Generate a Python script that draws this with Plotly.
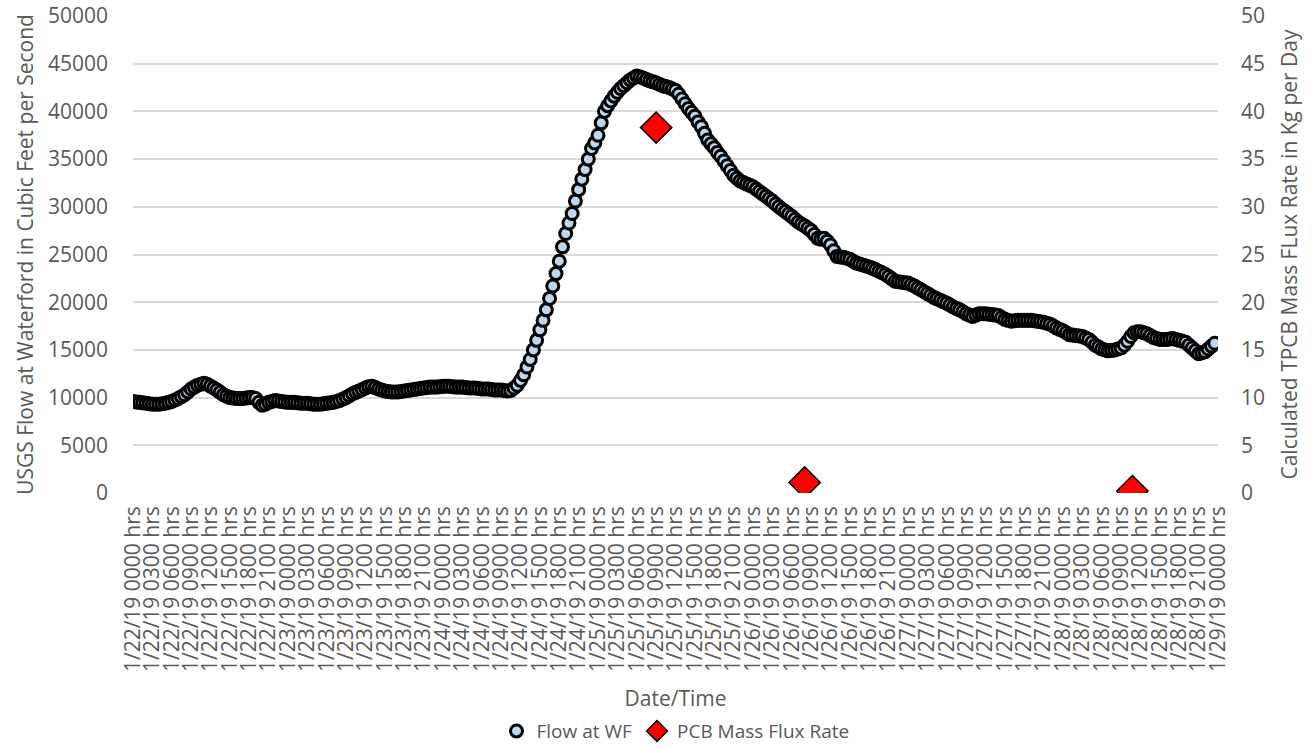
import pandas as pd
import plotly.graph_objects as go

# flow at Waterford (cfs), read every 30 minutes starting 1/22/19 0000
flow_jan22 = [9600, 9550, 9500, 9450, 9400, 9350, 9300, 9300, 9300, 9350, 9400, 9500,
              9600, 9750, 9900, 10100, 10300, 10600, 10900, 11100, 11300, 11400, 11500, 11400,
              11200, 11000, 10800, 10550, 10300, 10150, 10000, 9950, 9900, 9900, 9900, 9950,
              10000, 10000, 9900, 9500, 9200, 9300, 9500, 9600, 9700, 9650, 9600, 9550]
flow_jan23 = [9500, 9500, 9500, 9450, 9400, 9400, 9400, 9350, 9300, 9300, 9300, 9350,
              9400, 9450, 9500, 9600, 9700, 9850, 10000, 10200, 10400, 10550, 10700, 10850,
              11000, 11150, 11200, 11050, 10900, 10800, 10700, 10650, 10600, 10600, 10600, 10650,
              10700, 10750, 10800, 10850, 10900, 10950, 11000, 11050, 11100, 11100, 11100, 11150]
flow_jan24 = [11200, 11200, 11200, 11150, 11100, 11100, 11100, 11050, 11000, 11000, 11000, 10950,
              10900, 10900, 10900, 10850, 10800, 10800, 10800, 10750, 10700, 10750, 11000, 11300,
              11800, 12400, 13200, 14000, 15000, 16000, 17100, 18100, 19200, 20400, 21700, 23000,
              24300, 25800, 27200, 28300, 29300, 30600, 31800, 32900, 33900, 35000, 36100, 36700]
flow_jan25 = [37500, 38800, 40000, 40600, 41100, 41600, 42000, 42400, 42700, 43000, 43300, 43500,
              43700, 43600, 43500, 43350, 43200, 43100, 43000, 42850, 42700, 42600, 42500, 42350,
              42200, 41800, 41300, 40800, 40300, 39900, 39500, 38900, 38400, 37700, 37000, 36600,
              36200, 35700, 35300, 34800, 34300, 33800, 33300, 33000, 32700, 32550, 32400, 32250]
flow_jan26 = [32100, 31850, 31600, 31350, 31100, 30850, 30600, 30300, 30000, 29750, 29500, 29250,
              29000, 28700, 28400, 28200, 28000, 27750, 27500, 27100, 26700, 26600, 26700, 26400,
              26000, 25400, 24800, 24750, 24700, 24600, 24500, 24300, 24100, 24000, 23900, 23800,
              23700, 23550, 23400, 23250, 23100, 22900, 22700, 22450, 22200, 22150, 22100, 22050]
flow_jan27 = [22000, 21850, 21700, 21500, 21300, 21100, 20900, 20700, 20500, 20350, 20200, 20050,
              19900, 19700, 19500, 19350, 19200, 19000, 18800, 18650, 18500, 18650, 18800, 18800,
              18800, 18750, 18700, 18650, 18600, 18400, 18200, 18100, 18000, 18050, 18100, 18100,
              18100, 18100, 18100, 18050, 18000, 17950, 17900, 17800, 17700, 17500, 17300, 17150]
flow_jan28 = [17000, 16800, 16600, 16550, 16500, 16450, 16400, 16250, 16100, 15800, 15500, 15300,
              15100, 15000, 14900, 14950, 15000, 15100, 15200, 15500, 15900, 16400, 16800, 16900,
              16900, 16800, 16700, 16500, 16300, 16200, 16100, 16100, 16100, 16150, 16200, 16100,
              16000, 15900, 15800, 15500, 15200, 14900, 14600, 14700, 14800, 15100, 15400, 15700]

# PCB mass flux (kg/day)
pcb_times = ["2019-01-25 09:00", "2019-01-26 08:00", "2019-01-28 10:45"]
pcb_flux = [38.3, 1.1, 0.2]

flow = flow_jan22 + flow_jan23 + flow_jan24 + flow_jan25 + flow_jan26 + flow_jan27 + flow_jan28
flow_times = pd.date_range("2019-01-22 00:00", periods=len(flow), freq="30min")

tick_times = pd.date_range("2019-01-22 00:00", "2019-01-29 00:00", freq="3h")
tick_text = [f"{t.month}/{t.day}/19 {t.hour:02d}00 hrs" for t in tick_times]

FONT = "Open Sans"
GREY = "#595959"

fig = go.Figure()
fig.add_trace(go.Scatter(
    x=flow_times, y=flow, mode="markers", name="Flow at WF",
    marker=dict(symbol="circle", size=12, color="#BDD7EE",
                line=dict(color="black", width=3)),
))
fig.add_trace(go.Scatter(
    x=pd.to_datetime(pcb_times), y=pcb_flux, mode="markers", name="PCB Mass Flux Rate",
    yaxis="y2",
    marker=dict(symbol="diamond", size=24, color="#FF0000",
                line=dict(color="black", width=1.5)),
))

fig.update_layout(
    width=1316, height=746,
    margin=dict(l=133, r=98, t=16, b=253),
    paper_bgcolor="white", plot_bgcolor="white",
    font=dict(family=FONT, size=20, color=GREY),
    showlegend=True,
    legend=dict(orientation="h", x=0.5, xanchor="center",
                yref="container", y=0.02, yanchor="middle",
                font=dict(size=19, color=GREY), itemwidth=30, tracegroupgap=0),
    xaxis=dict(
        type="date", automargin=False,
        range=[tick_times[0], tick_times[-1]],
        tickvals=tick_times, ticktext=tick_text, tickangle=-90,
        showgrid=False, zeroline=False, showline=False, ticks="",
        ticklabelstandoff=8,
        tickfont=dict(size=21, color=GREY),
        title=dict(text="Date/Time", standoff=20, font=dict(size=21, color=GREY)),
    ),
    yaxis=dict(
        range=[0, 50000], dtick=5000, tickformat="d", automargin=False,
        showgrid=True, gridcolor="#d9d9d9", gridwidth=2,
        zeroline=False, showline=False, ticks="",
        ticklabelstandoff=24,
        tickfont=dict(size=21, color=GREY),
        title=dict(text="USGS Flow at Waterford in Cubic Feet per Second",
                   standoff=8, font=dict(size=21, color=GREY)),
    ),
    yaxis2=dict(
        overlaying="y", side="right", automargin=False,
        range=[0, 50], dtick=5,
        showgrid=False, zeroline=False, showline=False, ticks="",
        ticklabelstandoff=22,
        tickfont=dict(size=21, color=GREY),
        title=dict(text="Calculated TPCB Mass FLux Rate in Kg per Day",
                   standoff=18, font=dict(size=21, color=GREY)),
    ),
)

fig.write_html("out.html", config={"displayModeBar": False},
               post_script="document.body.style.margin = '0';")
